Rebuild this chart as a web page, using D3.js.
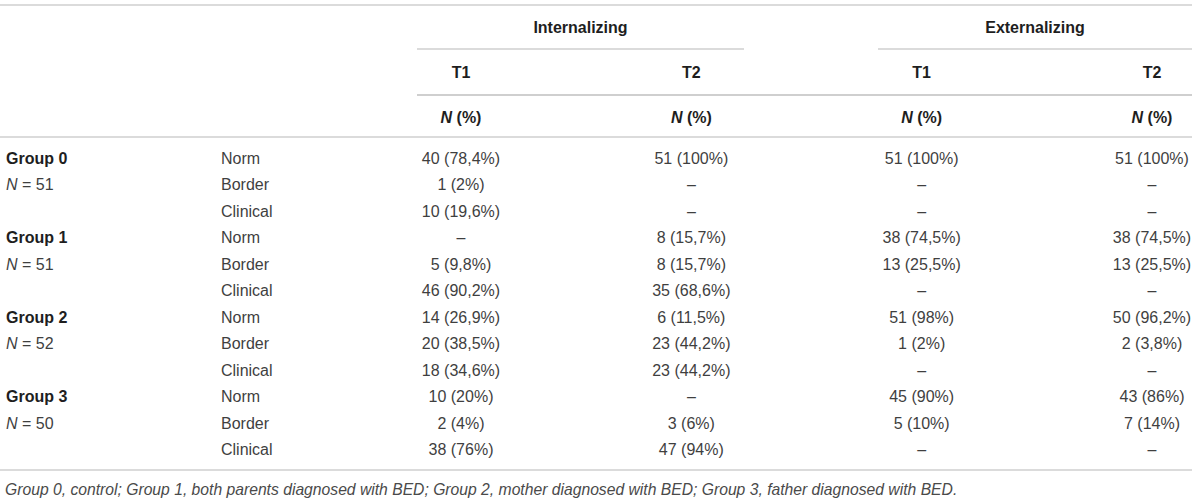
<!DOCTYPE html>
<html><head><meta charset="utf-8">
<script src="https://cdn.jsdelivr.net/npm/d3@7"></script>
<style>
html,body{margin:0;padding:0;background:#fff;}
svg{display:block;font-family:"Liberation Sans",Arial,sans-serif;}
</style></head>
<body>
<svg id="c" width="1200" height="501"></svg>
<script>
const domains = ["Internalizing", "Externalizing"];
const periods = ["T1", "T2"];
const groups = ["Group 0", "Group 1", "Group 2", "Group 3"];
const groupN = [51, 51, 52, 50];
const levels = ["Norm", "Border", "Clinical"];
const intT1N = [40, 1, 10, null, 5, 46, 14, 20, 18, 10, 2, 38];
const intT1P = [78.4, 2, 19.6, null, 9.8, 90.2, 26.9, 38.5, 34.6, 20, 4, 76];
const intT2N = [51, null, null, 8, 8, 35, 6, 23, 23, null, 3, 47];
const intT2P = [100, null, null, 15.7, 15.7, 68.6, 11.5, 44.2, 44.2, null, 6, 94];
const extT1N = [51, null, null, 38, 13, null, 51, 1, null, 45, 5, null];
const extT1P = [100, null, null, 74.5, 25.5, null, 98, 2, null, 90, 10, null];
const extT2N = [51, null, null, 38, 13, null, 50, 2, null, 43, 7, null];
const extT2P = [100, null, null, 74.5, 25.5, null, 96.2, 3.8, null, 86, 14, null];
const footnote = "Group 0, control; Group 1, both parents diagnosed with BED; Group 2, mother diagnosed with BED; Group 3, father diagnosed with BED.";

const columns = [
  {key: "i1", n: intT1N, p: intT1P},
  {key: "i2", n: intT2N, p: intT2P},
  {key: "e1", n: extT1N, p: extT1P},
  {key: "e2", n: extT2N, p: extT2P}
];

const svg = d3.select("#c");
const lineColor = "#cfcfcf";
const textColor = "#3f3f3f";
const headColor = "#1e1e1e";
const fs = 16;

const x = d3.scalePoint().domain(columns.map(c => c.key)).range([461, 1152]);
const rowIdx = d3.range(groups.length * levels.length);
const y = d3.scalePoint().domain(rowIdx).range([158, 449.5]);

function hline(x1, x2, yy, w) {
  svg.append("line").attr("x1", x1).attr("x2", x2).attr("y1", yy).attr("y2", yy)
    .attr("stroke", lineColor).attr("stroke-width", w || 1.5);
}

// rules
hline(0, 1192, 5);
hline(417, 744, 49);
hline(878, 1192, 49);
hline(417, 1192, 95, 2);
hline(0, 1192, 137);
hline(0, 1192, 470);

// domain headers
const domainCenters = [(417 + 744) / 2, (878 + 1192) / 2];
domains.forEach((d, i) => {
  svg.append("text").attr("x", domainCenters[i]).attr("y", 27).attr("dy", "0.35em")
    .attr("text-anchor", "middle").attr("font-size", fs).attr("font-weight", "bold")
    .attr("fill", headColor).text(d);
});

// period headers and N (%)
columns.forEach((c, i) => {
  svg.append("text").attr("x", x(c.key)).attr("y", 72).attr("dy", "0.35em")
    .attr("text-anchor", "middle").attr("font-size", fs).attr("font-weight", "bold")
    .attr("fill", headColor).text(periods[i % 2]);
  const t = svg.append("text").attr("x", x(c.key)).attr("y", 117).attr("dy", "0.35em")
    .attr("text-anchor", "middle").attr("font-size", fs).attr("font-weight", "bold")
    .attr("fill", headColor);
  t.append("tspan").attr("font-style", "italic").text("N");
  t.append("tspan").text(" (%)");
});

// group labels
groups.forEach((g, gi) => {
  svg.append("text").attr("x", 6).attr("y", y(gi * 3)).attr("dy", "0.35em")
    .attr("font-size", fs).attr("font-weight", "bold").attr("fill", headColor).text(g);
  const t = svg.append("text").attr("x", 6).attr("y", y(gi * 3 + 1)).attr("dy", "0.35em")
    .attr("font-size", fs).attr("fill", textColor);
  t.append("tspan").attr("font-style", "italic").text("N");
  t.append("tspan").text(" = " + groupN[gi]);
});

// level labels
rowIdx.forEach(r => {
  svg.append("text").attr("x", 221).attr("y", y(r)).attr("dy", "0.35em")
    .attr("font-size", fs).attr("fill", textColor).text(levels[r % 3]);
});

const fmt = (n, p) => n == null ? "\u2013" : n + " (" + String(p).replace(".", ",") + "%)";

columns.forEach(c => {
  svg.append("g").selectAll("text").data(rowIdx).join("text")
    .attr("x", x(c.key)).attr("y", r => y(r)).attr("dy", "0.35em")
    .attr("text-anchor", "middle").attr("font-size", fs).attr("fill", textColor)
    .text(r => fmt(c.n[r], c.p[r]));
});

svg.append("text").attr("x", 5).attr("y", 490).attr("dy", "0.35em")
  .attr("font-size", 15.7).attr("font-style", "italic").attr("fill", "#4a4a4a").text(footnote);
</script>
</body></html>
